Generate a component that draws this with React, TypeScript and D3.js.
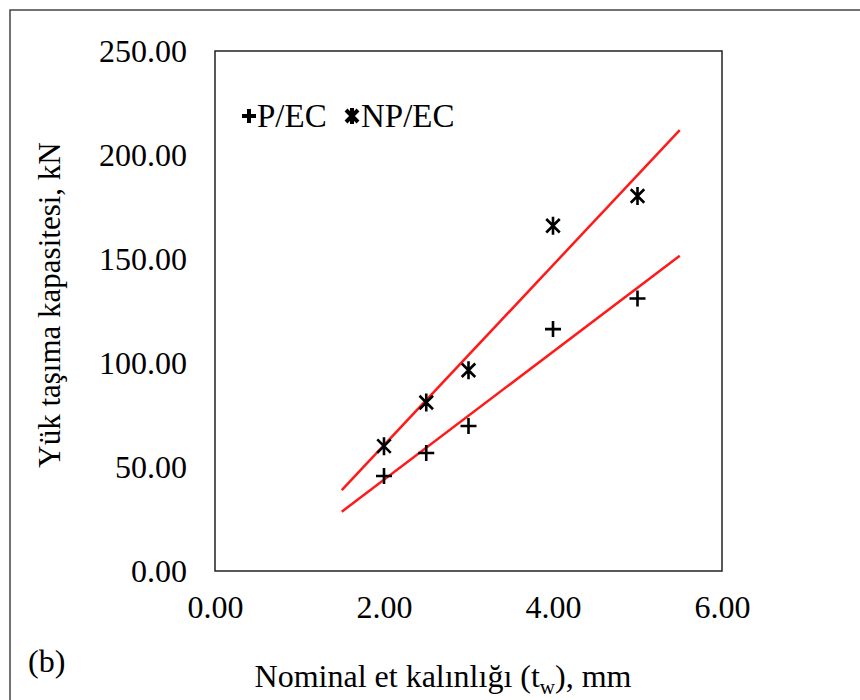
import React, { useEffect, useRef } from 'react';
import * as d3 from 'd3';

// Nominal wall thickness (mm) and load capacity (kN)
const thickness = [2.0, 2.5, 3.0, 4.0, 5.0];
const pEC = [45.7, 56.7, 69.7, 116.3, 131.0];
const npEC = [60.0, 81.0, 96.5, 166.0, 180.3];
const yTicks = [0, 50, 100, 150, 200, 250];
const xTicks = [0, 2, 4, 6];
const trendRange = [1.5, 5.5];

const FONT = '"Liberation Serif", "Times New Roman", serif';

// least squares fit -> Excel style linear trendline
function linFit(xs: number[], ys: number[]) {
  const mx = d3.mean(xs)!, my = d3.mean(ys)!;
  let sxy = 0, sxx = 0;
  xs.forEach((x, i) => { sxy += (x - mx) * (ys[i] - my); sxx += (x - mx) ** 2; });
  const b = sxy / sxx;
  return (x: number) => my + b * (x - mx);
}

export default function App() {
  const svgRef = useRef<SVGSVGElement>(null);

  useEffect(() => {
    const width = 860, height = 700;
    const margin = { top: 51, right: 138, bottom: 129, left: 215 };
    const innerW = width - margin.left - margin.right;
    const innerH = height - margin.top - margin.bottom;

    const svg = d3.select(svgRef.current).attr('width', width).attr('height', height);
    svg.selectAll('*').remove();

    svg.append('rect').attr('width', width).attr('height', height).attr('fill', '#fff');
    // outer frame (clipped by the page)
    svg.append('rect').attr('x', 10).attr('y', 10).attr('width', 870).attr('height', 720)
      .attr('fill', 'none').attr('stroke', '#444').attr('stroke-width', 1.5);

    const g = svg.append('g').attr('transform', `translate(${margin.left},${margin.top})`);

    const x = d3.scaleLinear().domain([0, 6]).range([0, innerW]);
    const y = d3.scaleLinear().domain([0, 250]).range([innerH, 0]);

    // plot box
    g.append('rect').attr('width', innerW).attr('height', innerH)
      .attr('fill', 'none').attr('stroke', '#222').attr('stroke-width', 1.5);

    // axes (no tick marks, labels only)
    const yAxis = g.append('g').call(d3.axisLeft(y).tickValues(yTicks).tickFormat(d3.format('.2f')).tickSize(0).tickPadding(28));
    yAxis.select('.domain').remove();
    yAxis.selectAll('text').attr('font-family', FONT).attr('font-size', 32).attr('fill', '#000');

    const xAxis = g.append('g').attr('transform', `translate(0,${innerH})`)
      .call(d3.axisBottom(x).tickValues(xTicks).tickFormat(d3.format('.2f')).tickSize(0).tickPadding(24));
    xAxis.select('.domain').remove();
    xAxis.selectAll('text').attr('font-family', FONT).attr('font-size', 32).attr('fill', '#000');

    // trendlines
    [pEC, npEC].forEach(vals => {
      const f = linFit(thickness, vals);
      g.append('line')
        .attr('x1', x(trendRange[0])).attr('y1', y(f(trendRange[0])))
        .attr('x2', x(trendRange[1])).attr('y2', y(f(trendRange[1])))
        .attr('stroke', '#ff1a1a').attr('stroke-width', 2.5);
    });

    const plus = (sel: any, cx: number, cy: number, r: number, w: number) => {
      sel.append('path').attr('d', `M${cx - r},${cy}H${cx + r}M${cx},${cy - r}V${cy + r}`)
        .attr('stroke', '#000').attr('stroke-width', w).attr('fill', 'none');
    };
    const star = (sel: any, cx: number, cy: number, r: number, w: number) => {
      const d = r * 0.75;
      sel.append('path')
        .attr('d', `M${cx - d},${cy - d}L${cx + d},${cy + d}M${cx - d},${cy + d}L${cx + d},${cy - d}M${cx},${cy - r}V${cy + r}`)
        .attr('stroke', '#000').attr('stroke-width', w).attr('fill', 'none');
    };

    thickness.forEach((t, i) => plus(g, x(t), y(pEC[i]), 8, 2.6));
    thickness.forEach((t, i) => star(g, x(t), y(npEC[i]), 9, 2.6));

    // legend
    const lg = svg.append('g');
    plus(lg, 249, 116, 7, 4);
    lg.append('text').attr('x', 257).attr('y', 127).attr('font-family', FONT).attr('font-size', 33).text('P/EC');
    star(lg, 352, 116, 8, 4);
    lg.append('text').attr('x', 361).attr('y', 127).attr('font-family', FONT).attr('font-size', 33).text('NP/EC');

    // axis titles
    svg.append('text').attr('transform', `translate(60,${margin.top + innerH / 2 - 6}) rotate(-90)`)
      .attr('text-anchor', 'middle').attr('font-family', FONT).attr('font-size', 31).text('Yük taşıma kapasitesi, kN');

    const xt = svg.append('text').attr('x', 443).attr('y', 687).attr('text-anchor', 'middle')
      .attr('font-family', FONT).attr('font-size', 32);
    xt.append('tspan').text('Nominal et kalınlığı (t');
    xt.append('tspan').attr('dy', 7).attr('font-size', 21).text('w');
    xt.append('tspan').attr('dy', -7).text('), mm');

    svg.append('text').attr('x', 28).attr('y', 672).attr('font-family', FONT).attr('font-size', 32).text('(b)');
  }, []);

  return (
    <div style={{ position: 'absolute', left: 0, top: 0 }}>
      <svg ref={svgRef} style={{ display: 'block' }} />
    </div>
  );
}
